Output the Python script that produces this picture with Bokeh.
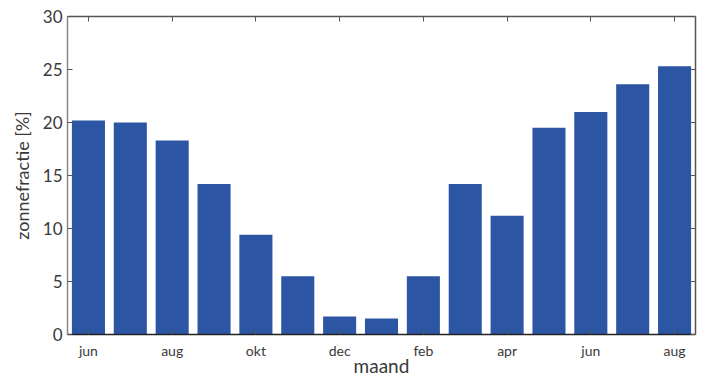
from bokeh.plotting import figure
from bokeh.models import LinearAxis, FixedTicker, Range1d, ColumnDataSource
from bokeh.embed import file_html
from bokeh.resources import INLINE

months = ["jun", "jul", "aug", "sep", "okt", "nov", "dec", "jan", "feb", "mar", "apr", "mei", "jun", "jul", "aug"]
values = [20.2, 20.0, 18.3, 14.2, 9.4, 5.5, 1.7, 1.5, 5.5, 14.2, 11.2, 19.5, 21.0, 23.6, 25.3]
y_ticks = [0, 5, 10, 15, 20, 25, 30]
x_label = "maand"
y_label = "zonnefractie [%]"

xs = list(range(1, len(values) + 1))
src = ColumnDataSource(dict(x=xs, top=values))

FONT = "Lato"
TXT = "#3a3a3a"
AX = "#555555"

p = figure(frame_width=628, frame_height=318, output_backend="svg", toolbar_location=None,
           x_range=Range1d(0.5, 15.5), y_range=Range1d(0, 30),
           min_border_left=67, min_border_top=16, min_border_right=4, min_border_bottom=0)
p.vbar(x="x", top="top", width=0.79, source=src, fill_color="#2C56A4", line_color=None)

p.xgrid.visible = False
p.ygrid.visible = False
p.outline_line_color = None
p.background_fill_color = "white"
p.border_fill_color = "white"

tick_pos = xs[::2]
overrides = {x: months[x - 1] for x in tick_pos}

xa = p.xaxis[0]
xa.ticker = FixedTicker(ticks=tick_pos)
xa.major_label_overrides = overrides
xa.axis_label = x_label
xa.axis_label_text_font = FONT
xa.axis_label_text_font_style = "normal"
xa.axis_label_text_font_size = "19px"
xa.axis_label_text_color = TXT
xa.axis_label_standoff = -8
xa.major_label_text_font = FONT
xa.major_label_text_font_size = "14px"
xa.major_label_text_color = TXT
xa.major_label_standoff = 7

ya = p.yaxis[0]
ya.ticker = FixedTicker(ticks=y_ticks)
ya.axis_label = y_label
ya.axis_label_text_font = FONT
ya.axis_label_text_font_style = "normal"
ya.axis_label_text_font_size = "18px"
ya.axis_label_text_color = TXT
ya.axis_label_standoff = 7
ya.major_label_text_font = FONT
ya.major_label_text_font_size = "17px"
ya.major_label_text_color = TXT
ya.major_label_standoff = 5

for ax in (xa, ya):
    ax.axis_line_color = AX
    ax.axis_line_width = 1.5
    ax.major_tick_line_color = AX
    ax.major_tick_in = 5
    ax.major_tick_out = 0
    ax.minor_tick_line_color = None
ya.axis_line_color = "#888888"
xa.axis_line_color = "#222222"

top = LinearAxis(ticker=FixedTicker(ticks=tick_pos), major_label_text_font_size="0px",
                 axis_line_color=AX, axis_line_width=1.5, major_tick_line_color=AX,
                 major_tick_in=5, major_tick_out=0, minor_tick_line_color=None,
                 major_label_standoff=0)
right = LinearAxis(ticker=FixedTicker(ticks=y_ticks), major_label_text_font_size="0px",
                   axis_line_color=AX, axis_line_width=1.5, major_tick_line_color=AX,
                   major_tick_in=5, major_tick_out=0, minor_tick_line_color=None,
                   major_label_standoff=0)
top.major_label_text_color = None
right.major_label_text_color = None
p.add_layout(top, "above")
p.add_layout(right, "right")

open("out.html", "w").write(file_html(p, INLINE))
